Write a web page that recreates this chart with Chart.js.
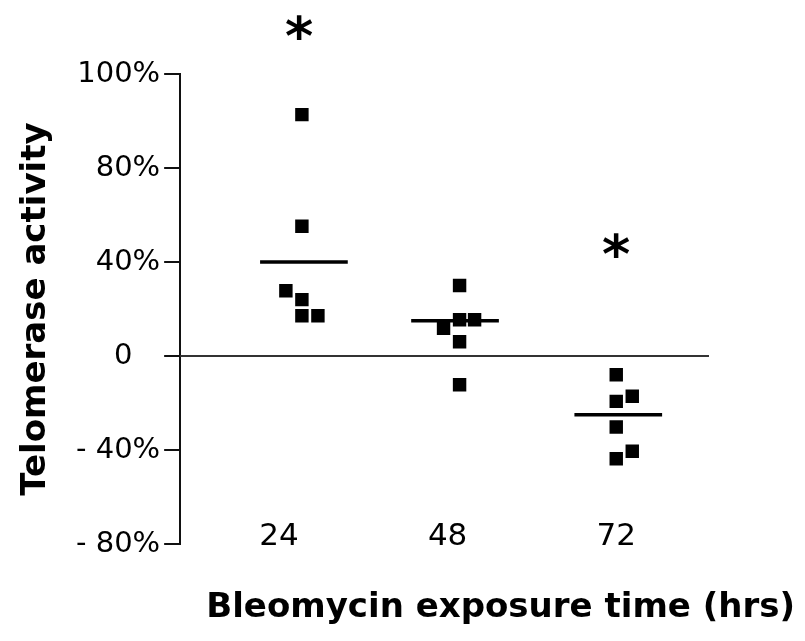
<!DOCTYPE html>
<html>
<head>
<meta charset="utf-8">
<script src="https://cdn.jsdelivr.net/npm/chart.js@4.4.0/dist/chart.umd.min.js"></script>
<style>
  html, body { margin: 0; padding: 0; background: #fff; }
  #wrap { width: 805px; height: 641px; }
</style>
</head>
<body>
<div id="wrap"><canvas id="chart" width="805" height="641"></canvas></div>
<script>
const hourLabels = ['24', '48', '72'];
const yTickLabels = ['- 80%', '- 40%', '0   ', '40%', '80%', '100%'];

// x is in category units (1 = under "24"), y is telomerase activity in %
const x24 = [1.136, 1.136, 1.041, 1.136, 1.136, 1.231];
const y24 = [102.7, 55.2, 27.8, 24.0, 17.1, 17.1];
const x48 = [2.071, 2.071, 2.160, 1.976, 2.071, 2.071];
const y48 = [30.0, 15.4, 15.4, 11.8, 6.1, -12.2];
const x72 = [3.0, 3.095, 3.0, 3.0, 3.095, 3.0];
const y72 = [-8.0, -17.1, -19.3, -30.2, -40.5, -43.7];

const meanCenter = [1.148, 2.044, 3.012];
const meanValues = [40, 15, -25];

// significance asterisks
const starX = [1.12, 3.0];
const starY = [140, 47];

const xMin = 0.414, xMax = 4.06;

function pts(xs, ys) {
    return xs.map((x, i) => ({ x: x, y: ys[i] }));
}

const pointSet = (xs, ys) => ({
    type: 'scatter',
    data: pts(xs, ys),
    pointStyle: 'rect',
    pointRadius: 9.5,
    backgroundColor: '#000',
    borderColor: '#000',
    borderWidth: 0,
    showLine: false
});

const meanSet = (i) => ({
    type: 'line',
    data: [{ x: meanCenter[i] - 0.26, y: meanValues[i] }, { x: meanCenter[i] + 0.26, y: meanValues[i] }],
    borderColor: '#000',
    borderWidth: 3.5,
    pointRadius: 0,
    fill: false
});

const starPlugin = {
    id: 'stars',
    afterDatasetsDraw(chart) {
        const { ctx, scales: { x, y } } = chart;
        ctx.save();
        ctx.font = 'bold 54px "DejaVu Sans"';
        ctx.fillStyle = '#000';
        ctx.textAlign = 'center';
        ctx.textBaseline = 'alphabetic';
        const m = ctx.measureText('*');
        starX.forEach((v, i) => {
            const px = x.getPixelForValue(v);
            const py = y.getPixelForValue(starY[i]);
            ctx.fillText('*', px, py + (m.actualBoundingBoxAscent - m.actualBoundingBoxDescent) / 2);
        });
        ctx.restore();
    }
};

const tickFont = { family: 'DejaVu Sans', size: 29, lineHeight: 1 };
const titleFont = { family: 'DejaVu Sans', size: 34, weight: 'bold', lineHeight: 1 };

new Chart(document.getElementById('chart'), {
    type: 'scatter',
    data: {
        datasets: [
            {
                type: 'line',
                data: [{ x: xMin, y: 0 }, { x: 3.55, y: 0 }],
                borderColor: '#333',
                borderWidth: 2,
                pointRadius: 0,
                fill: false
            },
            pointSet(x24, y24),
            pointSet(x48, y48),
            pointSet(x72, y72),
            meanSet(0),
            meanSet(1),
            meanSet(2)
        ]
    },
    options: {
        responsive: false,
        animation: false,
        layout: { padding: { top: 74, right: 10, left: 0, bottom: 0 } },
        plugins: {
            legend: { display: false },
            tooltip: { enabled: false }
        },
        scales: {
            x: {
                type: 'linear',
                min: xMin,
                max: xMax,
                afterBuildTicks: (s) => { s.ticks = hourLabels.map((_, i) => ({ value: i + 1 })); },
                ticks: {
                    callback: (v, i) => hourLabels[i],
                    font: { family: 'DejaVu Sans', size: 31, lineHeight: 1 },
                    color: '#000',
                    mirror: true,
                    padding: -8,
                    maxRotation: 0,
                    autoSkip: false
                },
                grid: { display: false, drawTicks: false },
                border: { display: false },
                title: {
                    display: true,
                    text: 'Bleomycin exposure time (hrs)',
                    align: 'end',
                    font: titleFont,
                    color: '#000',
                    padding: { top: 63, bottom: 16 }
                }
            },
            y: {
                type: 'linear',
                min: -80,
                max: 120,
                afterBuildTicks: (s) => { s.ticks = yTickLabels.map((_, i) => ({ value: -80 + 40 * i })); },
                ticks: {
                    callback: (v, i) => yTickLabels[i],
                    font: tickFont,
                    color: '#000',
                    padding: 4
                },
                grid: { drawOnChartArea: false, drawTicks: true, tickLength: 16, color: '#111', lineWidth: 2 },
                border: { display: true, color: '#111', width: 2 },
                title: {
                    display: true,
                    text: 'Telomerase activity',
                    font: titleFont,
                    color: '#000',
                    padding: { top: 19, bottom: 19 }
                }
            }
        }
    },
    plugins: [starPlugin]
});
</script>
</body>
</html>
